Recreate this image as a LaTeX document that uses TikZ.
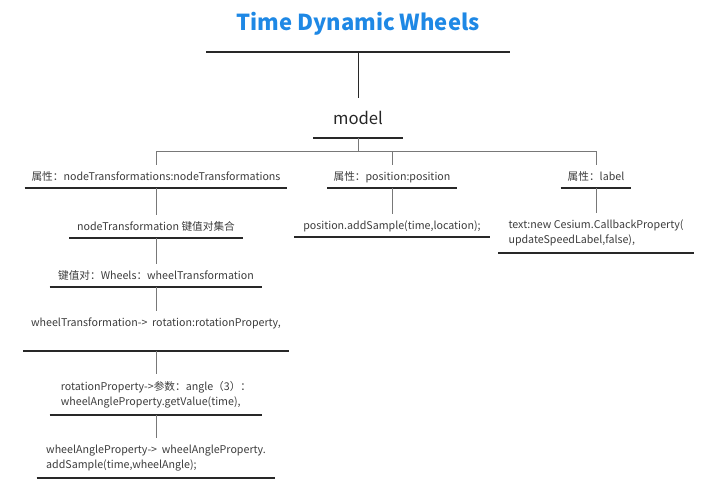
\documentclass[tikz,border=0pt]{standalone}
\usepackage{fontspec}
\setmainfont{Noto Sans CJK SC}
\usepackage{tikz}
\definecolor{titleblue}{RGB}{30,136,229}
\definecolor{linegray}{RGB}{120,120,120}
\definecolor{textgray}{RGB}{60,60,60}
\definecolor{ulcolor}{RGB}{40,40,40}

\begin{document}
\begin{tikzpicture}[x=0.75pt,y=-0.75pt,
  w/.style={minimum width=0.75pt*#1},
  uline/.style={anchor=south,inner xsep=0pt,inner ysep=5pt,text=textgray,
    font=\fontsize{8}{11.5}\selectfont,
    append after command={(\tikzlastnode.south west) edge[draw=ulcolor,line width=1.1pt] (\tikzlastnode.south east)}},
  one/.style={text depth=0.2pt},
  head/.style={anchor=south,inner xsep=0pt,text depth=0pt,
    append after command={(\tikzlastnode.south west) edge[draw=ulcolor,line width=2.2pt] (\tikzlastnode.south east)}},
  conn/.style={draw=linegray,line width=0.75pt}]
  \useasboundingbox (0,0) rectangle (718,487);

  \node[head,w=303,inner ysep=16pt,text=titleblue,font=\bfseries\fontsize{16.5}{20}\selectfont] (t) at (358,52) {Time Dynamic Wheels};
  \node[head,w=89,inner ysep=10pt,text=black!85,font=\fontsize{12.5}{15}\selectfont] (m) at (358,138) {model};

  \node[uline,one,w=262] (a) at (156,188) {属性：nodeTransformations:nodeTransformations};
  \node[uline,one,w=129] (b) at (392,188) {属性：position:position};
  \node[uline,one,w=70] (c) at (596,188) {属性：label};

  \node[uline,one,w=173] (a1) at (156,238) {nodeTransformation 键值对集合};
  \node[uline,one,w=212] (a2) at (156,287) {键值对：Wheels：wheelTransformation};
  \node[uline,w=265,text depth=13pt] (a3) at (156,351) {wheelTransformation->~ rotation:rotationProperty,};
  \node[uline,w=212,align=left] (a4) at (156,415) {rotationProperty->参数：angle（3）：\\wheelAngleProperty.getValue(time),};
  \node[uline,w=238,align=left] (a5) at (156,478) {wheelAngleProperty->~ wheelAngleProperty.\\addSample(time,wheelAngle);};

  \node[uline,one,w=195] (b1) at (392,237) {position.addSample(time,location);};
  \node[uline,w=195,align=left] (c1) at (596,253) {text:new Cesium.CallbackProperty(\\updateSpeedLabel,false),};

  %title>model
  \draw[conn,draw=ulcolor] (t.south) -- (m.north);
  %model>properties
  \draw[conn] (m.south) -- ++(0,13) coordinate (f);
  \draw[conn] (a.north) -- (a.north |- f) -- (c.north |- f) -- (c.north);
  \draw[conn] (b.north) -- (b.north |- f);

  %chains
  \draw[conn] (a.south) -- (a1.north);
  \draw[conn] (a1.south) -- (a2.north);
  \draw[conn] (a2.south) -- (a3.north);
  \draw[conn] (a3.south) -- (a4.north);
  \draw[conn] (a4.south) -- (a5.north);
  \draw[conn] (b.south) -- (b1.north);
  \draw[conn] (c.south) -- (c1.north);
\end{tikzpicture}
\end{document}
